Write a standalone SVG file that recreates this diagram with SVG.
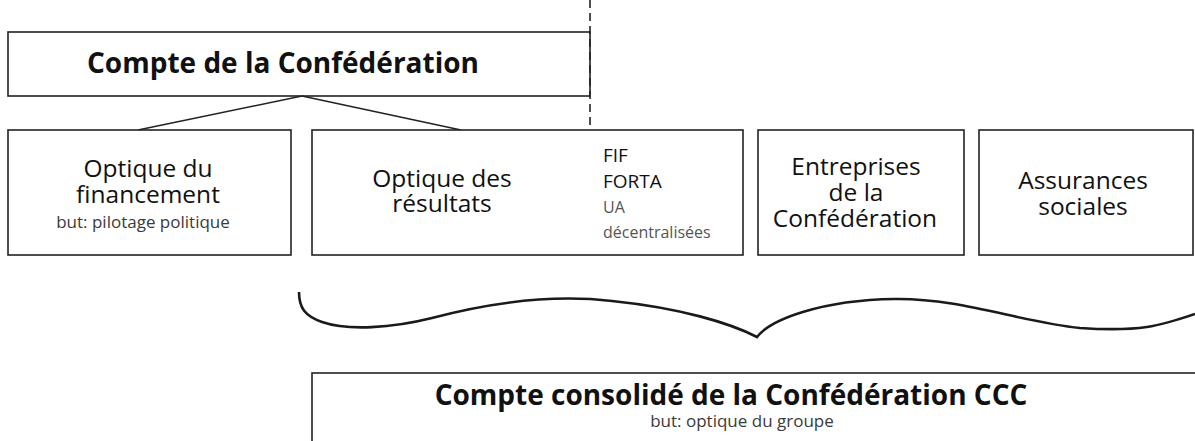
<svg xmlns="http://www.w3.org/2000/svg" width="1195" height="441" viewBox="0 0 1195 441">
<style>
.box{fill:#fff;stroke:#222;stroke-width:1.6}
.t{font-family:"Open Sans","Noto Sans",sans-serif;fill:#111;text-anchor:middle}
.b{font-weight:bold;font-size:28px}
.m{font-size:24.5px;font-weight:500}
.s{font-size:17px;fill:#3a3a3a}
.l{text-anchor:start}
.ln{fill:none;stroke:#222;stroke-width:1.6}
</style>
<rect width="1195" height="441" fill="#fff"/>
<g id="compte-conf">
<rect class="box" x="8" y="32" width="582" height="64"/>
<text class="t b" x="283" y="73">Compte de la Confédération</text>
</g>
<g id="connectors">
<path class="ln" d="M302,96 L138,130 M302,96 L461,130"/>
<path class="ln" d="M590,0 L590,255" stroke-dasharray="8,5"/>
<path fill="none" stroke="#1a1a1a" stroke-width="2.6" d="M299,292 C299,308 305,316 322,322 C348,331 392,328 432,318 C500,300 560,295 612,301 C680,308 730,323 757,337 C770,320 820,300 895,299 C960,298 1020,322 1080,328 C1140,332 1160,326 1195,314"/>
</g>
<g id="optique-fin">
<rect class="box" x="8" y="130" width="283" height="125"/>
<text class="t m" x="148" y="177">Optique du</text>
<text class="t m" x="148" y="203">financement</text>
<text class="t s" x="143" y="228">but: pilotage politique</text>
</g>
<g id="optique-res">
<rect class="box" x="312" y="130" width="431" height="125"/>
<text class="t m" x="442" y="187">Optique des</text>
<text class="t m" x="442" y="212">résultats</text>
<text class="t l" x="603" y="162" style="font-size:19px;font-weight:500">FIF</text>
<text class="t l" x="603" y="188" style="font-size:19px;font-weight:500">FORTA</text>
<text class="t l" x="603" y="213" style="font-size:16px;fill:#555">UA</text>
<text class="t l" x="603" y="238" style="font-size:16px;fill:#555">décentralisées</text>
</g>
<g id="entreprises">
<rect class="box" x="758" y="130" width="206" height="125"/>
<text class="t m" x="856" y="175">Entreprises</text>
<text class="t m" x="856" y="201">de la</text>
<text class="t m" x="855" y="227">Confédération</text>
</g>
<g id="assurances">
<rect class="box" x="979" y="130" width="214" height="125"/>
<text class="t m" x="1083" y="189">Assurances</text>
<text class="t m" x="1083" y="215">sociales</text>
</g>
<g id="ccc">
<rect class="box" x="312" y="373" width="900" height="80"/>
<text class="t b" x="731" y="405">Compte consolidé de la Confédération CCC</text>
<text class="t s" x="742" y="427">but: optique du groupe</text>
</g>
</svg>
